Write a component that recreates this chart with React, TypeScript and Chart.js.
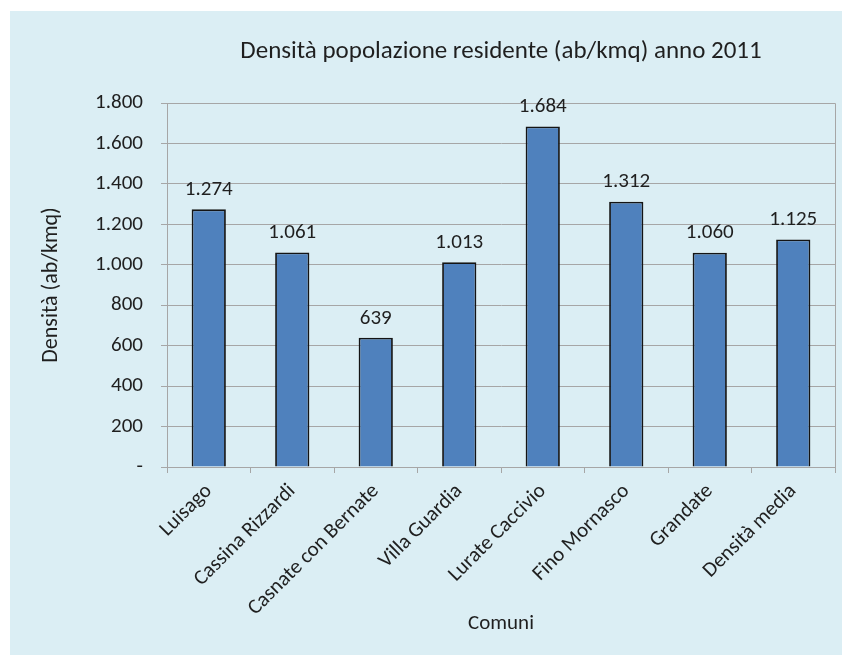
import React, { useEffect, useRef } from "react";
import { Chart, registerables } from "chart.js";

Chart.register(...registerables);

const categories = [
  "Luisago",
  "Cassina Rizzardi",
  "Casnate con Bernate",
  "Villa Guardia",
  "Lurate Caccivio",
  "Fino Mornasco",
  "Grandate",
  "Densità media",
];
const densityValues = [1274, 1061, 639, 1013, 1684, 1312, 1060, 1125];
const titleText = "Densità popolazione residente (ab/kmq) anno 2011";
const yAxisTitle = "Densità (ab/kmq)";
const xAxisTitle = "Comuni";

const FONT = "Carlito, Lato, 'Open Sans', sans-serif";
const TEXT = "#1f1f1f";
const GRID = "#a6a6a6";

const fmt = (v: number) =>
  v === 0 ? "-" : String(Math.round(v)).replace(/\B(?=(\d{3})+(?!\d))/g, ".");

const plotBorder = {
  id: "plotBorder",
  afterDatasetsDraw(chart: any) {
    const { ctx, chartArea } = chart;
    ctx.save();
    ctx.strokeStyle = GRID;
    ctx.lineWidth = 1;
    ctx.beginPath();
    ctx.moveTo(chartArea.left, chartArea.top + 0.5);
    ctx.lineTo(chartArea.right + 0.5, chartArea.top + 0.5);
    ctx.lineTo(chartArea.right + 0.5, chartArea.bottom);
    ctx.stroke();
    ctx.restore();
  },
};

const valueLabels = {
  id: "valueLabels",
  afterDatasetsDraw(chart: any) {
    const { ctx } = chart;
    const meta = chart.getDatasetMeta(0);
    ctx.save();
    ctx.fillStyle = TEXT;
    ctx.font = `21px ${FONT}`;
    ctx.textAlign = "center";
    ctx.textBaseline = "bottom";
    meta.data.forEach((bar: any, i: number) => {
      ctx.fillText(fmt(densityValues[i]), bar.x, bar.y - 9);
    });
    ctx.restore();
  },
};

export default function App() {
  const ref = useRef<HTMLCanvasElement | null>(null);
  useEffect(() => {
    if (!ref.current) return;
    const chart = new Chart(ref.current, {
      type: "bar",
      data: {
        labels: categories,
        datasets: [
          {
            data: densityValues,
            backgroundColor: "#4f81bd",
            borderColor: "#141414",
            borderWidth: 1.8,
            categoryPercentage: 1,
            barPercentage: 0.41,
          },
        ],
      },
      options: {
        responsive: false,
        animation: false,
        layout: { padding: { left: 24, right: 7, top: 0, bottom: 15 } },
        plugins: {
          legend: { display: false },
          tooltip: { enabled: false },
          title: {
            display: true,
            text: titleText,
            fullSize: false,
            color: TEXT,
            font: { family: FONT, size: 25, weight: "normal" },
            padding: { top: 26, bottom: 36 },
          },
        },
        scales: {
          x: {
            afterFit: (s: any) => {
              s.height = 644 - 15 - 456;
            },
            grid: {
              drawOnChartArea: false,
              drawTicks: true,
              tickLength: 6,
              color: GRID,
              offset: true,
            },
            border: { color: GRID },
            ticks: {
              color: TEXT,
              font: { family: FONT, size: 21 },
              minRotation: 45,
              maxRotation: 45,
              padding: 6,
              autoSkip: false,
            },
            title: {
              display: true,
              text: xAxisTitle,
              color: TEXT,
              font: { family: FONT, size: 21 },
              padding: { top: 4, bottom: 4 },
            },
          },
          y: {
            min: 0,
            max: 1800,
            afterFit: (s: any) => {
              s.width = 157 - 24;
            },
            grid: { color: GRID, tickLength: 6, drawTicks: true },
            border: { color: GRID },
            ticks: {
              stepSize: 200,
              color: TEXT,
              font: { family: FONT, size: 21 },
              padding: 18,
              callback: (v: any) => fmt(Number(v)),
            },
            title: {
              display: true,
              text: yAxisTitle,
              color: TEXT,
              font: { family: FONT, size: 22 },
              padding: { top: 4, bottom: 4 },
            },
          },
        },
      },
      plugins: [plotBorder, valueLabels],
    });
    return () => chart.destroy();
  }, []);
  return (
    <div
      style={{
        position: "absolute",
        left: 10,
        top: 11,
        width: 832,
        height: 644,
        background: "#dbeef4",
      }}
    >
      <canvas ref={ref} width={832} height={644} />
    </div>
  );
}
